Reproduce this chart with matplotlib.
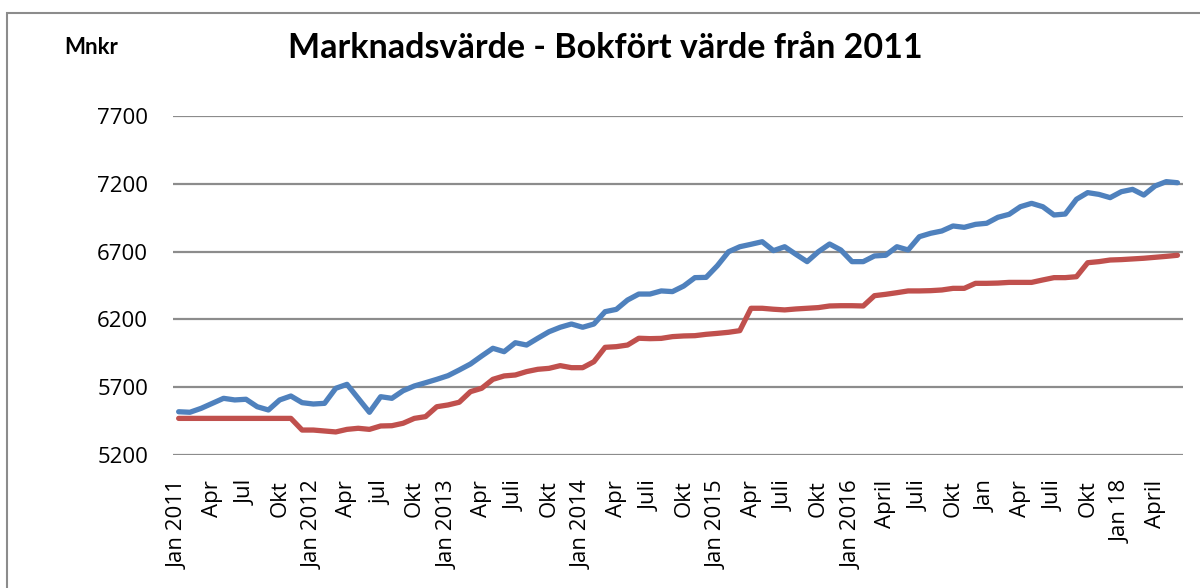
import matplotlib
matplotlib.use('Agg')
import matplotlib.pyplot as plt
from matplotlib.patches import Rectangle

# månadsdata jan 2011 - jun 2018 (Mnkr)
marknadsvarde = [
    5519, 5515, 5544, 5581, 5618, 5606, 5611, 5556, 5532, 5606, 5635, 5586,
    5576, 5581, 5692, 5721, 5618, 5515, 5630, 5618, 5674, 5709, 5733, 5758,
    5785, 5827, 5871, 5930, 5987, 5962, 6028, 6011, 6061, 6109, 6142, 6166,
    6142, 6166, 6257, 6274, 6343, 6387, 6387, 6410, 6405, 6446, 6508, 6510,
    6596, 6699, 6736, 6754, 6773, 6707, 6736, 6680, 6626, 6699, 6756, 6712,
    6626, 6626, 6668, 6673, 6736, 6712, 6810, 6835, 6852, 6889, 6879, 6901,
    6909, 6953, 6975, 7031, 7056, 7031, 6970, 6977, 7086, 7135, 7122, 7098,
    7142, 7159, 7117, 7184, 7216, 7208,
]
bokfort_varde = [
    5470, 5470, 5470, 5470, 5470, 5470, 5470, 5470, 5470, 5470, 5470, 5384,
    5384, 5377, 5370, 5389, 5397, 5389, 5414, 5416, 5434, 5470, 5483, 5556,
    5569, 5589, 5667, 5692, 5758, 5783, 5790, 5815, 5832, 5839, 5859, 5844,
    5844, 5888, 5994, 5999, 6011, 6061, 6058, 6060, 6073, 6078, 6080, 6090,
    6097, 6105, 6117, 6282, 6282, 6275, 6270, 6277, 6282, 6287, 6299, 6301,
    6301, 6299, 6375, 6385, 6397, 6410, 6410, 6412, 6417, 6429, 6429, 6466,
    6466, 6468, 6473, 6473, 6473, 6491, 6508, 6508, 6515, 6618, 6626, 6638,
    6641, 6646, 6651, 6658, 6665, 6673,
]
tick_labels = [
    'Jan 2011', 'Apr', 'Jul', 'Okt', 'Jan 2012', 'Apr', 'jul', 'Okt',
    'Jan 2013', 'Apr', 'Juli', 'Okt', 'Jan 2014', 'Apr', 'Juli', 'Okt',
    'Jan 2015', 'Apr', 'Juli', 'Okt', 'Jan 2016', 'April', 'Juli', 'Okt',
    'Jan', 'Apr', 'Juli', 'Okt', 'Jan 18', 'April',
]
y_ticks = [5200, 5700, 6200, 6700, 7200, 7700]

months = list(range(len(marknadsvarde)))

fig = plt.figure(figsize=(12, 5.88), dpi=100)
ax = fig.add_axes([0.1442, 0.2262, 0.8417, 0.5765])

# ram runt diagrammet (vänster och överkant syns)
fig.patches.append(Rectangle((7 / 1200, -0.1), 1.2, 1 - 13 / 588 + 0.1,
                             transform=fig.transFigure, fill=False,
                             edgecolor='#8c8c8c', linewidth=1.5))

for y in y_ticks:
    ax.axhline(y, color='#8c8c8c', linewidth=1.6, zorder=1)

ax.plot(months, marknadsvarde, color='#4F81BD', linewidth=3.8, zorder=3,
        solid_joinstyle='round', solid_capstyle='round')
ax.plot(months, bokfort_varde, color='#C0504D', linewidth=3.8, zorder=2,
        solid_joinstyle='round', solid_capstyle='round')

ax.set_xlim(-0.5, len(months) - 0.5)
ax.set_ylim(5200, 7700)
ax.set_yticks(y_ticks)
ax.set_xticks(range(0, len(months), 3)[:len(tick_labels)])
ax.set_xticklabels(tick_labels, rotation=90, ha='center', va='top')
ax.tick_params(axis='both', length=0, labelsize=16, pad=18)
for lab in ax.get_xticklabels() + ax.get_yticklabels():
    lab.set_fontfamily('Open Sans')

for s in ax.spines.values():
    s.set_visible(False)

fig.text(605 / 1200, 1 - 48 / 588, 'Marknadsvärde - Bokfört värde från 2011',
         ha='center', va='center', fontsize=24.5, fontweight='bold', family='Lato')
fig.text(91 / 1200, 1 - 47 / 588, 'Mnkr', ha='center', va='center',
         fontsize=16, fontweight='bold', family='Lato')

plt.savefig('out.png', dpi=100)
plt.close()
